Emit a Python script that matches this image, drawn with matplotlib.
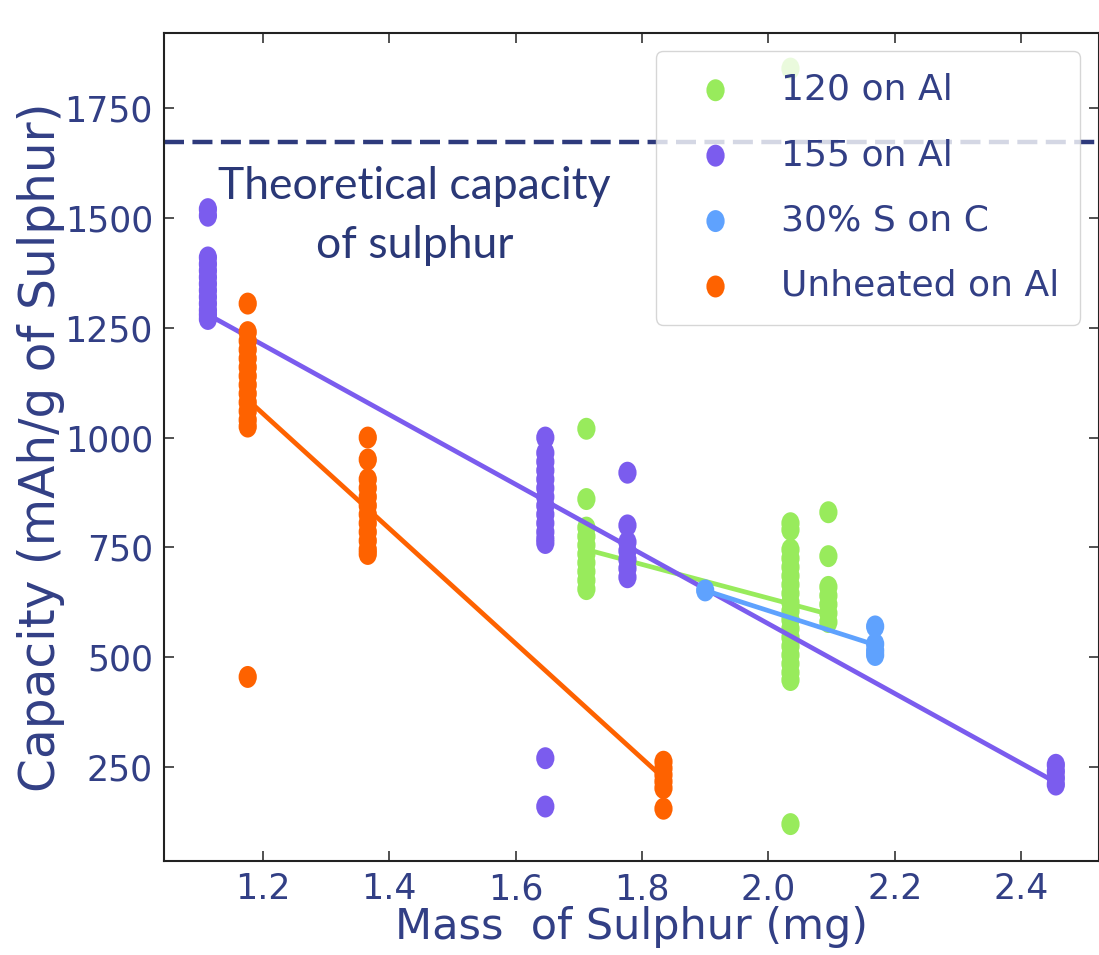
import matplotlib
matplotlib.use("Agg")
import matplotlib.pyplot as plt
from matplotlib.path import Path
from matplotlib.transforms import Affine2D

# ---------------- data ----------------
series_labels = ["120 on Al", "155 on Al", "30% S on C", "Unheated on Al"]
series_colors = ["#98eb5c", "#7b5cee", "#5fa2fe", "#fe6200"]

# 120 on Al
green_mass = [1.712, 2.035, 2.095]
green_cap = [
    [1020, 860, 795, 775, 755, 735, 715, 695, 675, 655],
    [1840, 805, 790, 745, 725, 705, 685, 665, 645, 625, 605, 585, 565, 545,
     525, 505, 485, 465, 448, 120],
    [830, 730, 660, 640, 620, 600, 580],
]
green_fit_mass = [1.712, 2.095]
green_fit_cap = [745, 598]

# 155 on Al
purple_mass = [1.113, 1.647, 1.777, 2.455]
purple_cap = [
    [1520, 1505, 1410, 1395, 1380, 1365, 1350, 1335, 1320, 1305, 1290, 1280, 1270],
    [1000, 965, 945, 925, 905, 885, 865, 845, 825, 805, 785, 770, 760, 270, 160],
    [920, 800, 762, 742, 722, 702, 682],
    [255, 240, 225, 210],
]
purple_fit_mass = [1.113, 2.455]
purple_fit_cap = [1280, 215]

# 30% S on C
blue_mass = [1.900, 2.169]
blue_cap = [
    [652],
    [570, 530, 515, 505],
]
blue_fit_mass = [1.900, 2.169]
blue_fit_cap = [652, 528]

# Unheated on Al
orange_mass = [1.176, 1.366, 1.834]
orange_cap = [
    [1305, 1240, 1220, 1200, 1180, 1160, 1140, 1120, 1100, 1080, 1060, 1040,
     1025, 455],
    [1000, 950, 905, 885, 865, 845, 825, 805, 785, 765, 745, 735],
    [262, 247, 232, 217, 202, 155],
]
orange_fit_mass = [1.176, 1.834]
orange_fit_cap = [1086, 225]

theoretical_capacity = 1672
x_ticks = [1.2, 1.4, 1.6, 1.8, 2.0, 2.2, 2.4]
y_ticks = [250, 500, 750, 1000, 1250, 1500, 1750]

# ---------------- figure ----------------
navy = "#323f85"
W, H = 1099, 955
fig = plt.figure(figsize=(W / 100, H / 100), dpi=100)
ax = fig.add_axes([164 / W, 1 - 861 / H, (1098.5 - 164) / W, (861 - 33) / H])

# slightly tall elliptical dot, as in the reference
circ = Path.unit_circle()
dot = Path(Affine2D().scale(0.83, 1.0).transform(circ.vertices), circ.codes)

groups = [
    (green_mass, green_cap, green_fit_mass, green_fit_cap),
    (purple_mass, purple_cap, purple_fit_mass, purple_fit_cap),
    (blue_mass, blue_cap, blue_fit_mass, blue_fit_cap),
    (orange_mass, orange_cap, orange_fit_mass, orange_fit_cap),
]

z = 3
for (masses, caps, fx, fy), label, color in zip(groups, series_labels, series_colors):
    xs, ys = [], []
    for m, cl in zip(masses, caps):
        xs.extend([m] * len(cl))
        ys.extend(cl)
    ax.scatter(xs, ys, s=250, marker=dot, color=color, edgecolors="none",
               label=label, zorder=z)
    ax.plot(fx, fy, color=color, lw=3.4, solid_capstyle="butt", zorder=z + 1)
    z += 2

ax.axhline(theoretical_capacity, color="#2e3a7c", lw=3.2,
           linestyle=(0, (4.5, 1.9)), zorder=2)

ax.text(1.44, 1505, "Theoretical capacity\nof sulphur", ha="center", va="center",
        multialignment="center", fontsize=32, family=["Lato", "DejaVu Sans"],
        color="#2a3877", linespacing=1.55, zorder=20)

ax.set_xlim(1.0435, 2.5225)
ax.set_ylim(36, 1921)
ax.set_xticks(x_ticks)
ax.set_xticklabels([f"{v:.1f}" for v in x_ticks])
ax.set_yticks(y_ticks)
ax.set_yticklabels([str(v) for v in y_ticks])

ax.tick_params(direction="in", length=7.5, width=1.1, top=True, right=True,
               labelsize=25, labelcolor=navy, pad=8, color="#222222")
for sp in ax.spines.values():
    sp.set_linewidth(1.5)
    sp.set_color("#222222")

ax.set_xlabel("Mass  of Sulphur (mg)", fontsize=31, color=navy, labelpad=0)
ax.set_ylabel("Capacity (mAh/g of Sulphur)", fontsize=35, color=navy, labelpad=0)

leg = ax.legend(loc="upper right", fontsize=26, labelcolor=navy, frameon=True,
                framealpha=0.8, edgecolor="#cccccc", handlelength=2.1,
                handletextpad=0.75, labelspacing=0.87, borderpad=0.6,
                fancybox=True)
leg.set_zorder(30)

fig.savefig("out.png", dpi=100)
